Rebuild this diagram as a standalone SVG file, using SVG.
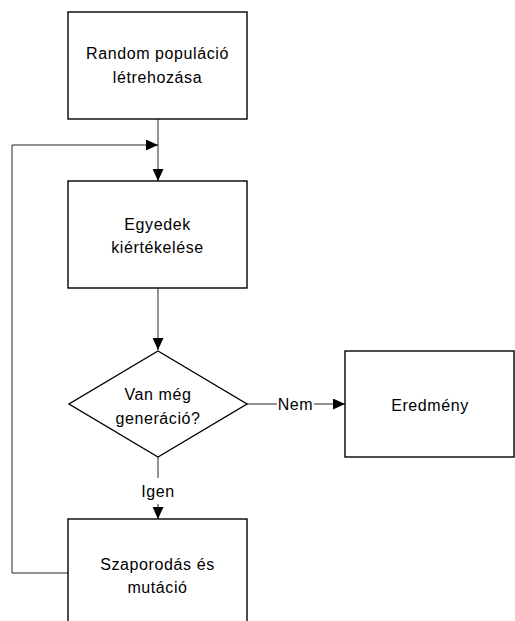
<svg xmlns="http://www.w3.org/2000/svg" width="515" height="621" viewBox="0 0 515 621">
<defs>
<marker id="arr" markerWidth="13" markerHeight="11" refX="12" refY="5.5" orient="auto" markerUnits="userSpaceOnUse">
<path d="M0,0 L12,5.5 L0,11 Z" fill="#000"/>
</marker>
<style>
.box{fill:#fff;stroke:#000;stroke-width:1.4}
.con{fill:none;stroke:#262626;stroke-width:1}
text{font-family:"Liberation Sans",Arial,sans-serif;font-size:16px;fill:#000;text-anchor:middle;letter-spacing:0.6px}
</style>
</defs>
<rect width="515" height="621" fill="#fff"/>
<g id="connectors">
<path class="con" d="M158,119 V181" marker-end="url(#arr)"/>
<path class="con" d="M68,573 H12 V145 H158" marker-end="url(#arr)"/>
<path class="con" d="M158,288 V350" marker-end="url(#arr)"/>
<path class="con" d="M247,404 H277"/>
<path class="con" d="M314,404 H345" marker-end="url(#arr)"/>
<text x="295.5" y="410">Nem</text>
<path class="con" d="M158,457 V478"/>
<path class="con" d="M158,504 V519" marker-end="url(#arr)"/>
<text x="158" y="497">Igen</text>
</g>
<g id="n1">
<rect class="box" x="68" y="12" width="179" height="107"/>
<text x="157.5" y="59">Random populáció</text>
<text x="157.5" y="83">létrehozása</text>
</g>
<g id="n2">
<rect class="box" x="68" y="181" width="179" height="107"/>
<text x="157.5" y="230">Egyedek</text>
<text x="157.5" y="253">kiértékelése</text>
</g>
<g id="n3">
<polygon class="box" points="158,351 247,404 158,457 69,404"/>
<text x="158" y="400">Van még</text>
<text x="158" y="424">generáció?</text>
</g>
<g id="n4">
<rect class="box" x="345" y="351" width="169" height="106"/>
<text x="430" y="411">Eredmény</text>
</g>
<g id="n5">
<rect class="box" x="68" y="519" width="179" height="110"/>
<text x="157.5" y="570">Szaporodás és</text>
<text x="157.5" y="593">mutáció</text>
</g>
</svg>
